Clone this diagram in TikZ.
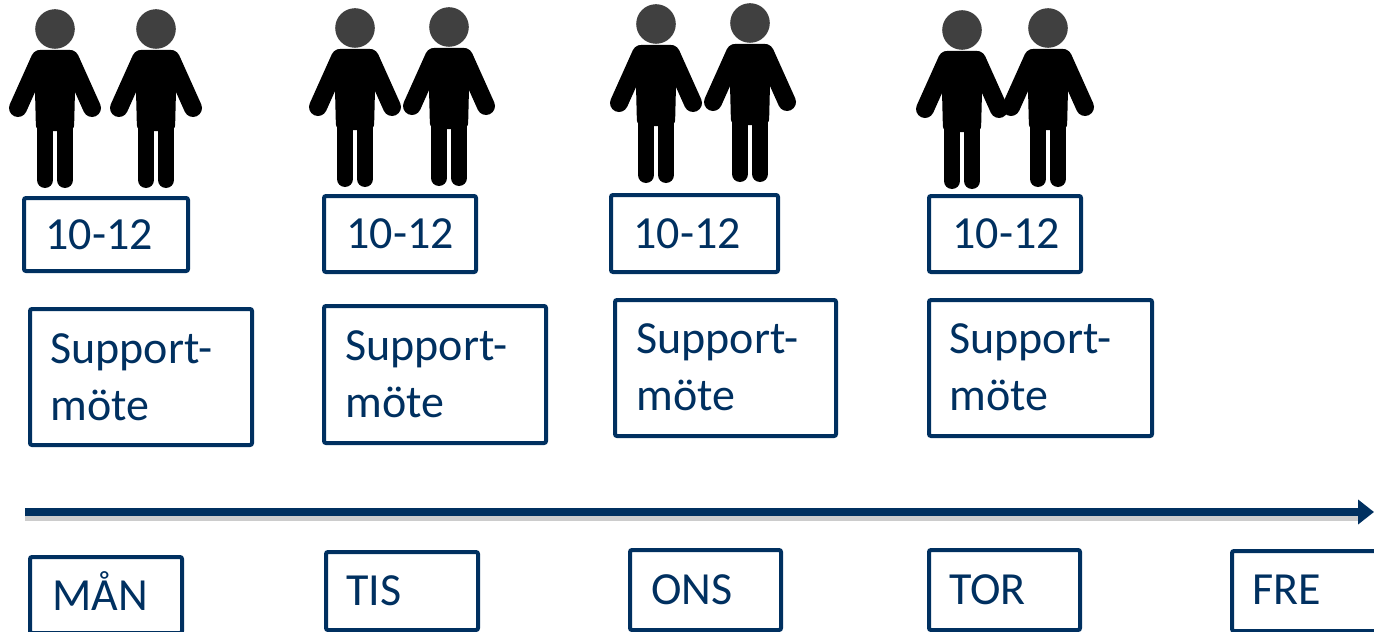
\documentclass[tikz,border=0pt]{standalone}
\usepackage{fontspec}
\setmainfont{Carlito}
\usetikzlibrary{arrows.meta}
\definecolor{navy}{RGB}{0,48,96}
\definecolor{headgray}{RGB}{64,64,64}
\newcommand\myperson[2]{%
  \fill[headgray] (#1,#2) circle[radius=9.9pt];
  \draw[black, line width=9pt, line cap=round] (#1-15,#2+30) -- (#1-37,#2+79);
  \draw[black, line width=9pt, line cap=round] (#1+15,#2+30) -- (#1+37,#2+79);
  \fill[black, rounded corners=3pt] (#1-21,#2+21) -- (#1+21,#2+21) -- (#1+19,#2+102) -- (#1-19,#2+102) -- cycle;
  \draw[black, line width=8pt, line cap=round] (#1-10,#2+95) -- (#1-10,#2+151);
  \draw[black, line width=8pt, line cap=round] (#1+10,#2+95) -- (#1+10,#2+151);
}
\newcommand\mybox[5]{%
  \node[boxst, minimum width={(#4-4)*0.5pt}, minimum height={(#5-4)*0.5pt}] (#1) at (#2+2,#3+2) {};
}
\begin{document}
\begin{tikzpicture}[x=0.5pt,y=-0.5pt,
  boxst/.style={draw=navy, line width=2pt, rounded corners=1pt, anchor=north west, inner sep=0pt, outer sep=0pt, fill=white},
  lbl/.style={text=navy, font=\fontsize{23}{28}\selectfont, anchor=base west, inner sep=0pt},
]
\useasboundingbox (0,0) rectangle (1374,631);
\clip (0,0) rectangle (1374,631);

% people
\myperson{55}{29}\myperson{156}{29}
\myperson{355}{28}\myperson{449}{27}
\myperson{656}{24}\myperson{750}{23}
\myperson{962}{30}\myperson{1048}{28}

% time boxes
\mybox{t1}{22}{196}{168}{77}
\mybox{t2}{322}{194}{156}{80}
\mybox{t3}{609}{193}{171}{81}
\mybox{t4}{927}{194}{156}{80}
\node[lbl] (tt1) at (45,249) {10-12};
\node[lbl] (tt2) at (346,248) {10-12};
\node[lbl] (tt3) at (633,248) {10-12};
\node[lbl] (tt4) at (952,248) {10-12};

% support boxes
\mybox{s1}{28}{307}{226}{140}
\mybox{s2}{322}{304}{226}{141}
\mybox{s3}{613}{298}{225}{140}
\mybox{s4}{927}{298}{227}{140}
\node[lbl] (sa1) at (50,363) {Support-};
\node[lbl] (sb1) at (50,420) {möte};
\node[lbl] (sa2) at (345,360) {Support-};
\node[lbl] (sb2) at (345,417) {möte};
\node[lbl] (sa3) at (636,353) {Support-};
\node[lbl] (sb3) at (636,410) {möte};
\node[lbl] (sa4) at (949,353) {Support-};
\node[lbl] (sb4) at (949,410) {möte};

% timeline
\coordinate (as) at (25,512);
\coordinate (ae) at (1374,512);
\draw[black!20, line width=3pt] ([yshift=-3pt]as) -- ([yshift=-3pt,xshift=-8pt]ae);
\draw[navy, line width=4pt, -{Triangle[length=8pt,width=12pt]}] (as) -- (ae);

% day boxes
\mybox{d1}{28}{555}{156}{80}
\mybox{d2}{324}{550}{156}{82}
\mybox{d3}{628}{548}{155}{84}
\mybox{d4}{927}{548}{155}{84}
\mybox{d5}{1230}{549}{160}{84}
\node[lbl] (dt1) at (52,610) {MÅN};
\node[lbl] (dt2) at (346,605) {TIS};
\node[lbl] (dt3) at (651,604) {ONS};
\node[lbl] (dt4) at (949,604) {TOR};
\node[lbl] (dt5) at (1252,604) {FRE};
\end{tikzpicture}
\end{document}
